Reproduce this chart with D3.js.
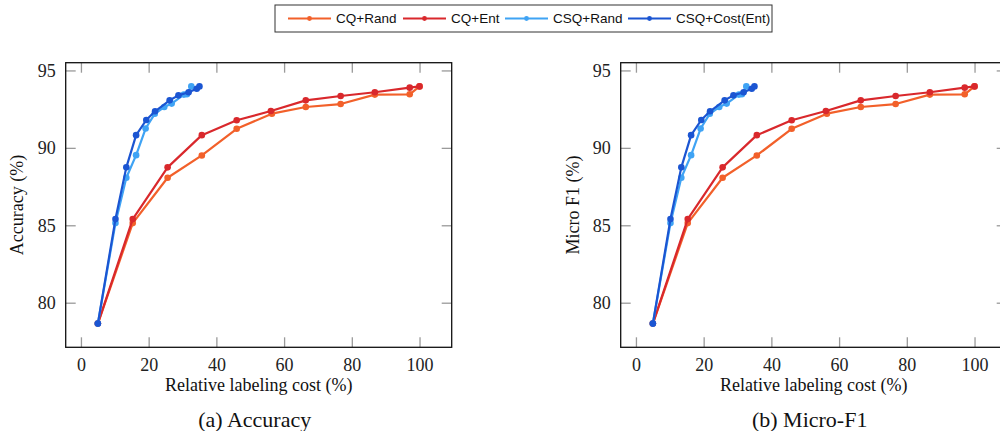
<!DOCTYPE html>
<html>
<head>
<meta charset="utf-8">
<script src="https://cdn.jsdelivr.net/npm/d3@7"></script>
<style>
  body { margin: 0; background: #fff; }
  svg { display: block; }
</style>
</head>
<body>
<svg id="chart" width="1000" height="431"></svg>
<script>
// Series names and colours
const seriesNames = ['CQ+Rand', 'CQ+Ent', 'CSQ+Rand', 'CSQ+Cost(Ent)'];
const seriesColors = ['#f2602a', '#d9282c', '#3fa3f4', '#1b55d2'];

// Relative labeling cost (%) per series
const costCQRand = [5, 15.3, 25.6, 35.7, 46.0, 56.4, 66.4, 76.7, 86.8, 97.1, 100];
const costCQEnt = [5, 15.3, 25.6, 35.7, 46.0, 56.1, 66.4, 76.7, 86.8, 97.1, 100];
const costCSQRand = [5, 10.2, 13.4, 16.3, 19.1, 21.8, 24.6, 26.8, 30.4, 31.3, 32.6];
const costCSQCost = [5, 10.2, 13.4, 16.3, 19.3, 21.9, 26.2, 28.8, 31.8, 34.2, 35.0];

// Accuracy (%) per series
const accCQRand = [78.65, 85.14, 88.07, 89.51, 91.23, 92.21, 92.64, 92.83, 93.44, 93.46, 93.97];
const accCQEnt = [78.65, 85.40, 88.74, 90.82, 91.78, 92.38, 93.07, 93.35, 93.59, 93.89, 93.97];
const accCSQRand = [78.65, 85.14, 88.07, 89.53, 91.25, 92.20, 92.64, 92.86, 93.44, 93.46, 93.97];
const accCSQCost = [78.65, 85.40, 88.74, 90.82, 91.80, 92.36, 93.07, 93.39, 93.59, 93.82, 93.97];

// Micro F1 (%) per series (reads the same as accuracy in the picture)
const f1CQRand = accCQRand.slice();
const f1CQEnt = accCQEnt.slice();
const f1CSQRand = accCSQRand.slice();
const f1CSQCost = accCSQCost.slice();

// Ticks
const xTicks = [0, 20, 40, 60, 80, 100];
const yTicks = [80, 85, 90, 95];
const xDomain = [-4.5, 109.5];
const yDomain = [77.12, 95.5];

const costs = [costCQRand, costCQEnt, costCSQRand, costCSQCost];

const serif = '"Liberation Serif", "Times New Roman", Times, "DejaVu Serif", serif';
const sans = '"Liberation Sans", Arial, Helvetica, sans-serif';

const panels = [
    { left: 65.7, yLabel: 'Accuracy (%)', yLabelX: 17, caption: '(a) Accuracy',
      values: [accCQRand, accCQEnt, accCSQRand, accCSQCost] },
    { left: 620.7, yLabel: 'Micro F1 (%)', yLabelX: 573, caption: '(b) Micro-F1',
      values: [f1CQRand, f1CQEnt, f1CSQRand, f1CSQCost] }
];

const plotW = 386, plotTop = 62.7, plotBottom = 347.3;
const svg = d3.select('#chart');

panels.forEach(p => {
    const x = d3.scaleLinear().domain(xDomain).range([p.left, p.left + plotW]);
    const y = d3.scaleLinear().domain(yDomain).range([plotBottom, plotTop]);
    const g = svg.append('g');

    // inward ticks on all four sides
    const styleTicks = sel => {
        sel.attr('font-family', serif).attr('font-size', 18);
        sel.select('.domain').remove();
        sel.selectAll('.tick line').attr('stroke', '#9a9a9a').attr('stroke-width', 1.3);
        sel.selectAll('.tick text').attr('fill', '#222');
    };
    g.append('g').attr('transform', `translate(0,${plotBottom})`)
        .call(d3.axisBottom(x).tickValues(xTicks).tickSize(-10).tickPadding(11))
        .call(styleTicks);
    g.append('g').attr('transform', `translate(0,${plotTop})`)
        .call(d3.axisTop(x).tickValues(xTicks).tickSize(-10).tickFormat(''))
        .call(styleTicks);
    g.append('g').attr('transform', `translate(${p.left},0)`)
        .call(d3.axisLeft(y).tickValues(yTicks).tickSize(-10).tickPadding(10))
        .call(styleTicks);
    g.append('g').attr('transform', `translate(${p.left + plotW},0)`)
        .call(d3.axisRight(y).tickValues(yTicks).tickSize(-10).tickFormat(''))
        .call(styleTicks);

    // frame
    g.append('rect')
        .attr('x', p.left).attr('y', plotTop)
        .attr('width', plotW).attr('height', plotBottom - plotTop)
        .attr('fill', 'none').attr('stroke', '#111').attr('stroke-width', 1.3);

    // series
    const line = d3.line().x(d => x(d[0])).y(d => y(d[1]));
    seriesNames.forEach((name, i) => {
        const pts = costs[i].map((c, k) => [c, p.values[i][k]]);
        g.append('path').datum(pts)
            .attr('d', line)
            .attr('fill', 'none')
            .attr('stroke', seriesColors[i])
            .attr('stroke-width', 2.2)
            .attr('stroke-linejoin', 'round');
        g.selectAll(null).data(pts).enter().append('circle')
            .attr('cx', d => x(d[0])).attr('cy', d => y(d[1]))
            .attr('r', 3.3)
            .attr('fill', seriesColors[i]);
    });

    // titles
    g.append('text')
        .attr('font-family', serif).attr('font-size', 18).attr('fill', '#111')
        .attr('x', p.left + plotW / 2).attr('y', 385)
        .attr('text-anchor', 'middle').attr('dominant-baseline', 'central')
        .text('Relative labeling cost (%)');
    g.append('text')
        .attr('font-family', serif).attr('font-size', 18).attr('fill', '#111')
        .attr('transform', `translate(${p.yLabelX},${(plotTop + plotBottom) / 2}) rotate(-90)`)
        .attr('text-anchor', 'middle').attr('dominant-baseline', 'central')
        .text(p.yLabel);
    g.append('text')
        .attr('font-family', serif).attr('font-size', 22).attr('fill', '#111')
        .attr('x', p.left + plotW / 2 - 4).attr('y', 419)
        .attr('text-anchor', 'middle').attr('dominant-baseline', 'central')
        .text(p.caption);
});

// legend
const legend = svg.append('g');
legend.append('rect')
    .attr('x', 275).attr('y', 5).attr('width', 497).attr('height', 27)
    .attr('fill', '#fff').attr('stroke', '#333').attr('stroke-width', 1);
const legendX = [288, 403, 505, 628];
seriesNames.forEach((name, i) => {
    const lx = legendX[i];
    legend.append('line')
        .attr('x1', lx).attr('x2', lx + 43).attr('y1', 18.5).attr('y2', 18.5)
        .attr('stroke', seriesColors[i]).attr('stroke-width', 2);
    legend.append('circle')
        .attr('cx', lx + 21.5).attr('cy', 18.5).attr('r', 2.4)
        .attr('fill', seriesColors[i]);
    legend.append('text')
        .attr('font-family', sans).attr('font-size', 13.5).attr('fill', '#111')
        .attr('x', lx + 48).attr('y', 18.5)
        .attr('dominant-baseline', 'central')
        .text(name);
});
</script>
</body>
</html>
